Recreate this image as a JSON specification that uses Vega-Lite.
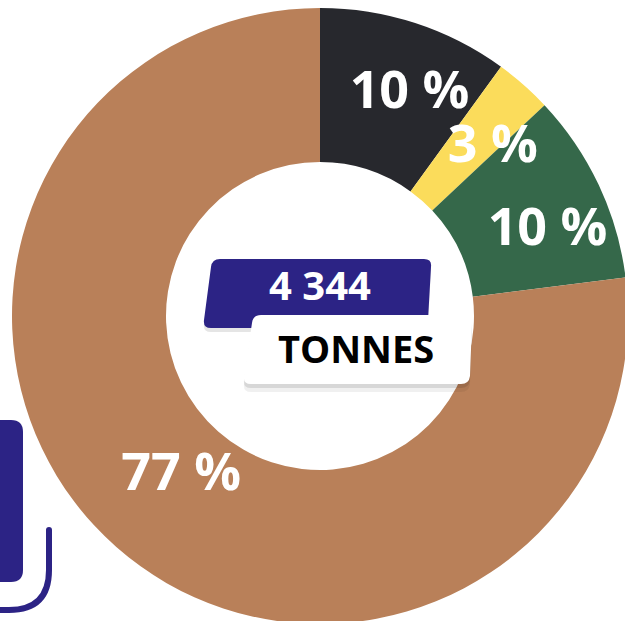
{
  "$schema": "https://vega.github.io/schema/vega-lite/v6.json",
  "width": 640,
  "height": 632,
  "autosize": "none",
  "padding": {"left": 0, "top": 0, "right": -15, "bottom": -11},
  "background": "white",
  "config": {"view": {"stroke": null}},
  "data": {
    "values": [
      {"categorie": "Catégorie 1", "ordre": 1, "valeur": 10, "label": "10 %"},
      {"categorie": "Catégorie 2", "ordre": 2, "valeur": 3, "label": "3 %"},
      {"categorie": "Catégorie 3", "ordre": 3, "valeur": 10, "label": "10 %"},
      {"categorie": "Catégorie 4", "ordre": 4, "valeur": 77, "label": "77 %"}
    ]
  },
  "layer": [
    {
      "data": {"values": [{}]},
      "mark": {"type": "point", "shape": "M -340 104 L -309 104 Q -297 104 -297 116 L -297 254 Q -297 266 -309 266 L -340 266 Z", "size": 4, "filled": true, "color": "#2c2385", "opacity": 1, "strokeWidth": 0},
      "encoding": {}
    },
    {
      "data": {"values": [{}]},
      "mark": {"type": "point", "shape": "M -271 214 L -271 254 Q -271 294 -311 294 L -345 294", "size": 4, "filled": false, "stroke": "#2c2385", "strokeWidth": 6, "strokeCap": "round", "opacity": 1},
      "encoding": {}
    },
    {
      "mark": {"type": "arc", "outerRadius": 308, "innerRadius": 154, "stroke": null},
      "encoding": {
        "theta": {"field": "valeur", "type": "quantitative", "stack": true},
        "order": {"field": "ordre", "type": "quantitative"},
        "color": {
          "field": "categorie",
          "type": "nominal",
          "scale": {"domain": ["Catégorie 1", "Catégorie 2", "Catégorie 3", "Catégorie 4"], "range": ["#27282d", "#fbdc5b", "#35684a", "#b98059"]},
          "legend": null
        }
      }
    },
    {
      "mark": {"type": "text", "radius": 245, "thetaOffset": 0.06, "dy": 4, "font": "Open Sans", "fontSize": 52, "fontWeight": "bold", "color": "white"},
      "encoding": {
        "theta": {"field": "valeur", "type": "quantitative", "stack": true},
        "order": {"field": "ordre", "type": "quantitative"},
        "text": {"field": "label", "type": "nominal"},
        "opacity": {"condition": {"test": "datum.ordre < 4", "value": 1}, "value": 0}
      }
    },
    {
      "mark": {"type": "text", "radius": 210, "font": "Open Sans", "fontSize": 52, "fontWeight": "bold", "color": "white"},
      "encoding": {
        "theta": {"field": "valeur", "type": "quantitative", "stack": true},
        "order": {"field": "ordre", "type": "quantitative"},
        "text": {"field": "label", "type": "nominal"},
        "opacity": {"condition": {"test": "datum.ordre == 4", "value": 1}, "value": 0}
      }
    },
    {
      "data": {"values": [{}]},
      "mark": {"type": "point", "shape": "M -100 -57 L 104 -57 Q 112 -57 111 -49 L 108 4 Q 107 12 99 12 L -109 12 Q -117 12 -116 4 L -109 -49 Q -108 -57 -100 -57 Z", "size": 4, "filled": true, "color": "#000000", "opacity": 0.1, "strokeWidth": 0, "yOffset": 4},
      "encoding": {}
    },
    {
      "data": {"values": [{}]},
      "mark": {"type": "point", "shape": "M -100 -57 L 104 -57 Q 112 -57 111 -49 L 108 4 Q 107 12 99 12 L -109 12 Q -117 12 -116 4 L -109 -49 Q -108 -57 -100 -57 Z", "size": 4, "filled": true, "color": "#2c2385", "opacity": 1, "strokeWidth": 0},
      "encoding": {}
    },
    {
      "data": {"values": [{"t": "4 344"}]},
      "mark": {"type": "text", "font": "Open Sans", "fontSize": 40, "fontWeight": "bold", "color": "white", "dy": -28},
      "encoding": {"text": {"field": "t", "type": "nominal"}}
    },
    {
      "data": {"values": [{}]},
      "mark": {"type": "point", "shape": "M -59 -1 L 145 -1 Q 153 -1 152 7 L 150 60 Q 149 68 141 68 L -69 68 Q -77 68 -76 60 L -68 7 Q -67 -1 -59 -1 Z", "size": 4, "filled": true, "color": "#000000", "opacity": 0.06, "strokeWidth": 0, "yOffset": 8},
      "encoding": {}
    },
    {
      "data": {"values": [{}]},
      "mark": {"type": "point", "shape": "M -59 -1 L 145 -1 Q 153 -1 152 7 L 150 60 Q 149 68 141 68 L -69 68 Q -77 68 -76 60 L -68 7 Q -67 -1 -59 -1 Z", "size": 4, "filled": true, "color": "#000000", "opacity": 0.1, "strokeWidth": 0, "yOffset": 4},
      "encoding": {}
    },
    {
      "data": {"values": [{}]},
      "mark": {"type": "point", "shape": "M -59 -1 L 145 -1 Q 153 -1 152 7 L 150 60 Q 149 68 141 68 L -69 68 Q -77 68 -76 60 L -68 7 Q -67 -1 -59 -1 Z", "size": 4, "filled": true, "color": "#ffffff", "opacity": 1, "strokeWidth": 0},
      "encoding": {}
    },
    {
      "data": {"values": [{"t": "TONNES"}]},
      "mark": {"type": "text", "font": "Open Sans", "fontSize": 38, "fontWeight": "bold", "color": "#000000", "dx": 36, "dy": 36},
      "encoding": {"text": {"field": "t", "type": "nominal"}}
    }
  ]
}
